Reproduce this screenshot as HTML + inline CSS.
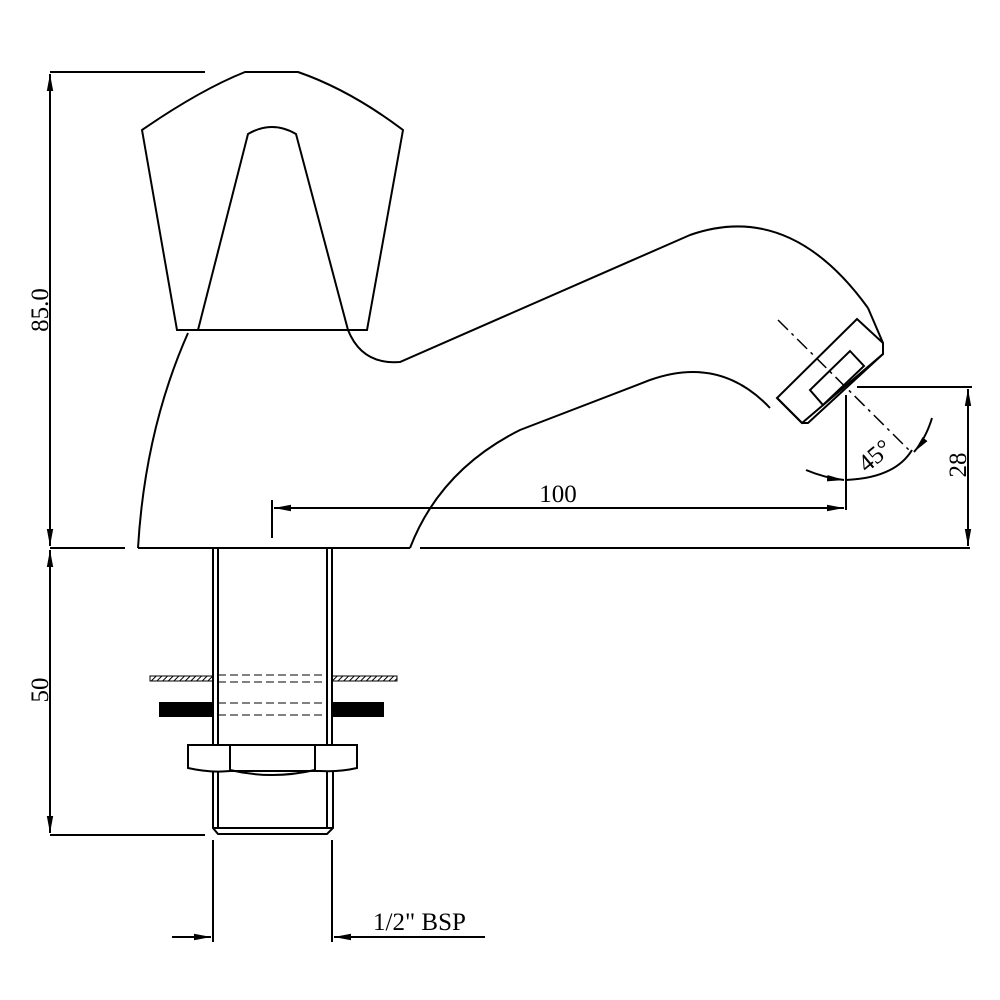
<!DOCTYPE html>
<html><head><style>body{margin:0;background:#fff}svg{display:block}</style></head><body>
<svg width="1000" height="1000" viewBox="0 0 1000 1000" xmlns="http://www.w3.org/2000/svg" fill="none" stroke="#000" stroke-width="2" font-family="Liberation Serif, serif">
<defs><marker id="a" viewBox="0 0 10 10" refX="10" refY="5" markerWidth="17" markerHeight="8" orient="auto-start-reverse" markerUnits="userSpaceOnUse" preserveAspectRatio="none"><path d="M0,1 L10,5 L0,9z" fill="#000" stroke="none"/></marker>
<pattern id="h" width="4" height="4" patternUnits="userSpaceOnUse" patternTransform="rotate(45)"><line x1="0" y1="0" x2="0" y2="4" stroke="#000" stroke-width="2"/></pattern></defs>
<!-- handle -->
<path d="M142,130 Q200,90 245,72 L298,72 Q350,90 403,130 L367,330 L177,330 Z"/>
<path d="M198,330 L248,134 Q272,120 296,134 L348,330"/>
<!-- body -->
<path d="M188,333 Q145,430 138,548"/>
<path d="M348,330 Q362,365 400,362 L690,235 Q790,200 868,308"/>
<path d="M770,408 Q720,355 650,380 L520,430 Q440,470 410,548"/>
<!-- outlet -->
<path d="M868,308 L883,343 L883,354 L802,423 L777,398 L857,319 L883,343"/>
<path d="M777,398 L802,423 L808,423 L883,354"/>
<path d="M850,351 L864,366 L823,405 L810,390 Z"/>
<path d="M778,320 L912,453" stroke-width="1.5" stroke-dasharray="14,5,3,5"/>
<!-- base line -->
<line x1="50" y1="548" x2="125" y2="548"/>
<line x1="138" y1="548" x2="410" y2="548"/>
<line x1="420" y1="548" x2="970" y2="548"/>
<!-- dims -->
<line x1="50" y1="72" x2="205" y2="72"/>
<line x1="50" y1="74" x2="50" y2="546" marker-start="url(#a)" marker-end="url(#a)"/>
<line x1="50" y1="550" x2="50" y2="833" marker-start="url(#a)" marker-end="url(#a)"/>
<line x1="50" y1="835" x2="205" y2="835"/>
<g fill="#000" stroke="none" font-size="25">
<text transform="translate(48,310) rotate(-90)" text-anchor="middle">85.0</text>
<text transform="translate(48,690) rotate(-90)" text-anchor="middle">50</text>
<text x="558" y="502" text-anchor="middle">100</text>
<text transform="translate(966,465) rotate(-90)" text-anchor="middle">28</text>
<text transform="translate(880,462) rotate(-40)" text-anchor="middle">45°</text>
<text x="373" y="930">1/2" BSP</text>
</g>
<line x1="272" y1="500" x2="272" y2="538"/>
<line x1="274" y1="508" x2="844" y2="508" marker-start="url(#a)" marker-end="url(#a)"/>
<line x1="846" y1="395" x2="846" y2="510"/>
<line x1="857" y1="387" x2="972" y2="387"/>
<line x1="968" y1="389" x2="968" y2="546" marker-start="url(#a)" marker-end="url(#a)"/>
<path d="M806,470 Q825,478 844,480" marker-end="url(#a)"/>
<path d="M846,480 Q895,478 912,450" />
<path d="M932,418 Q926,438 914,452" marker-end="url(#a)"/>
<!-- pipe -->
<path d="M213,548 V745 M218,548 V745 M327,548 V745 M332,548 V745"/>
<rect x="150" y="676" width="63" height="5" fill="url(#h)" stroke-width="1"/>
<rect x="332" y="676" width="65" height="5" fill="url(#h)" stroke-width="1"/>
<rect x="160" y="703" width="53" height="13" fill="#000"/>
<rect x="332" y="703" width="51" height="13" fill="#000"/>
<path d="M218,675 H327 M218,682 H327 M218,703 H327 M218,715 H327" stroke-width="1" stroke-dasharray="8,4"/>
<!-- nut -->
<path d="M188,745 H357 V768 Q340,772 320,771 L230,771 Q210,773 188,768 Z"/>
<path d="M230,745 V770 M315,745 V770 M230,770 Q272,780 315,770"/>
<path d="M213,772 V828 L218,834 H327 L333,828 V772 M218,772 V828 M327,772 V828 M213,828 H333"/>
<!-- bottom dims -->
<line x1="213" y1="840" x2="213" y2="942"/>
<line x1="332" y1="840" x2="332" y2="942"/>
<line x1="172" y1="937" x2="211" y2="937" marker-end="url(#a)"/>
<line x1="485" y1="937" x2="334" y2="937" marker-end="url(#a)"/>
</svg>
</body></html>
